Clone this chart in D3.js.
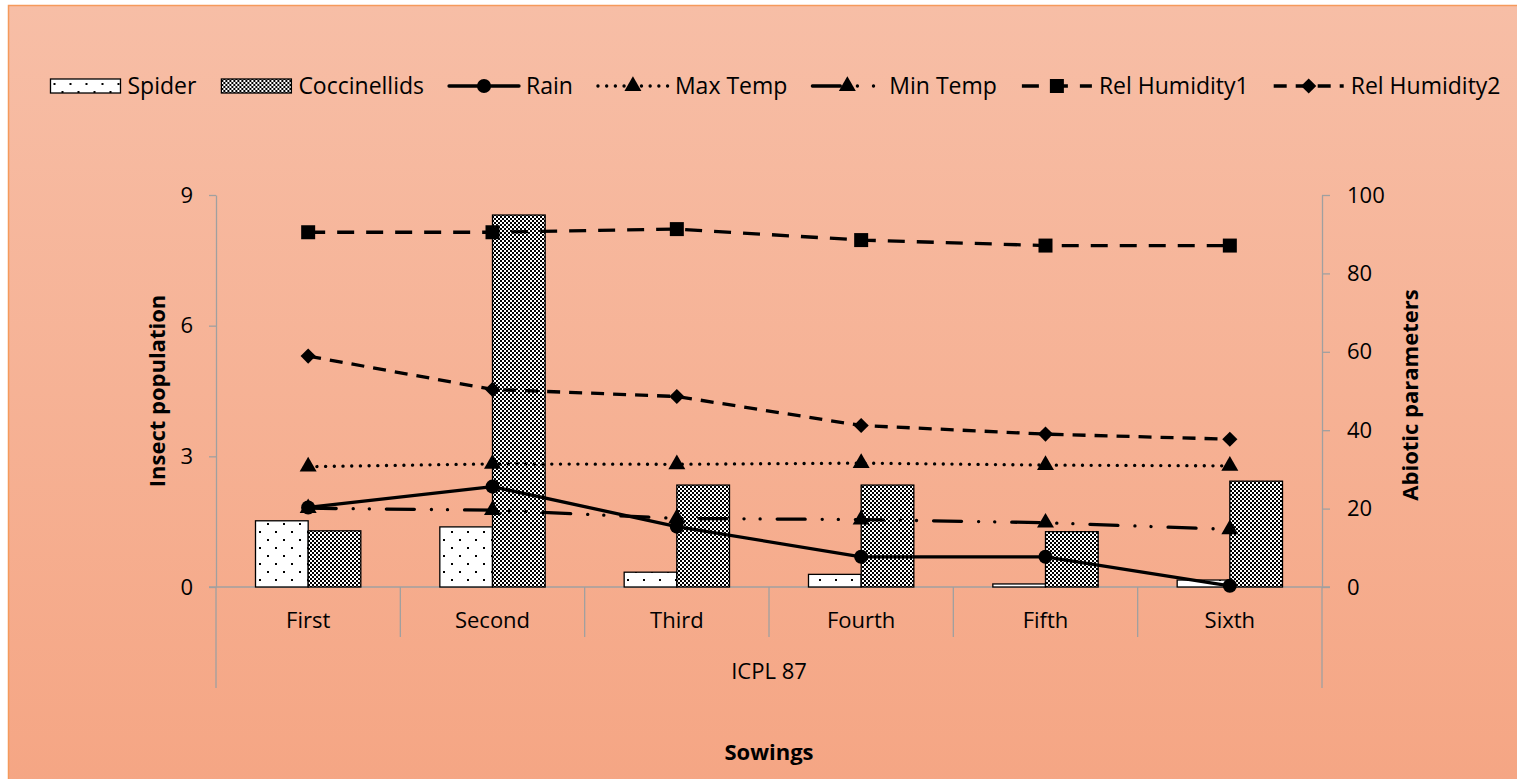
<!DOCTYPE html>
<html>
<head>
<meta charset="utf-8">
<script src="https://d3js.org/d3.v7.min.js"></script>
<style>
  html, body { margin: 0; padding: 0; background: #fff; overflow: hidden; }
  svg { display: block; font-family: "Open Sans", sans-serif; }
</style>
</head>
<body>
<svg id="chart" width="1517" height="779"></svg>
<script>
// Data
const sowings = ['First', 'Second', 'Third', 'Fourth', 'Fifth', 'Sixth'];
const spider = [1.52, 1.38, 0.34, 0.29, 0.07, 0.16];
const coccinellids = [1.29, 8.54, 2.34, 2.34, 1.27, 2.43];
const rain = [20.3, 25.6, 15.4, 7.7, 7.7, 0.3];
const maxTemp = [30.7, 31.4, 31.3, 31.6, 31.1, 30.9];
const minTemp = [20.1, 19.6, 17.5, 17.2, 16.4, 14.7];
const relHumidity1 = [90.5, 90.5, 91.3, 88.5, 87.1, 87.1];
const relHumidity2 = [58.9, 50.4, 48.6, 41.2, 39.0, 37.7];
const leftTicks = [0, 3, 6, 9];
const rightTicks = [0, 20, 40, 60, 80, 100];

const svg = d3.select('#chart');
const W = 1517, H = 779;
const plot = { left: 216, right: 1322, top: 195, bottom: 587 };
const axisGrey = '#a0a0a0';
const tickFont = 22, legendFont = 23, titleFont = 22;

// Background gradient + border
const defs = svg.append('defs');
const grad = defs.append('linearGradient').attr('id', 'bg').attr('x1', 0).attr('y1', 0).attr('x2', 0).attr('y2', 1);
grad.append('stop').attr('offset', '0%').attr('stop-color', '#f7bea6');
grad.append('stop').attr('offset', '100%').attr('stop-color', '#f5a583');

svg.append('rect').attr('width', W).attr('height', H).attr('fill', '#ffffff');
svg.append('rect')
  .attr('x', 8.5).attr('y', 5.5).attr('width', W + 20).attr('height', H + 20)
  .attr('fill', 'url(#bg)').attr('stroke', '#f59a5c').attr('stroke-width', 1.5);

// Patterns
const dots = defs.append('pattern').attr('id', 'dots')
  .attr('patternUnits', 'userSpaceOnUse').attr('width', 16).attr('height', 16);
dots.append('rect').attr('width', 16).attr('height', 16).attr('fill', '#fff');
dots.append('rect').attr('x', 3).attr('y', 3).attr('width', 2).attr('height', 2).attr('fill', '#000');
dots.append('rect').attr('x', 11).attr('y', 11).attr('width', 2).attr('height', 2).attr('fill', '#000');

const check = defs.append('pattern').attr('id', 'check')
  .attr('patternUnits', 'userSpaceOnUse').attr('width', 4).attr('height', 4);
check.append('rect').attr('width', 4).attr('height', 4).attr('fill', '#fff');
check.append('rect').attr('x', 0).attr('y', 0).attr('width', 2).attr('height', 2).attr('fill', '#000');
check.append('rect').attr('x', 2).attr('y', 2).attr('width', 2).attr('height', 2).attr('fill', '#000');

// Scales
const x = d3.scaleBand().domain(sowings).range([plot.left, plot.right]);
const groupW = x.bandwidth() / 1.75;
const barSeries = [
  { name: 'Spider', values: spider, fill: 'url(#dots)' },
  { name: 'Coccinellids', values: coccinellids, fill: 'url(#check)' }
];
const xInner = d3.scaleBand().domain(barSeries.map(d => d.name))
  .range([(x.bandwidth() - groupW) / 2, (x.bandwidth() + groupW) / 2]);
const yL = d3.scaleLinear().domain([0, 9]).range([plot.bottom, plot.top]);
const yR = d3.scaleLinear().domain([0, 100]).range([plot.bottom, plot.top]);
const cx = c => x(c) + x.bandwidth() / 2;

// Axes
const gL = svg.append('g').attr('transform', `translate(${plot.left},0)`)
  .call(d3.axisLeft(yL).tickValues(leftTicks).tickSize(7).tickSizeOuter(0).tickPadding(16));
const gR = svg.append('g').attr('transform', `translate(${plot.right},0)`)
  .call(d3.axisRight(yR).tickValues(rightTicks).tickSize(8).tickSizeOuter(0).tickPadding(17));
[gL, gR].forEach(g => {
  g.selectAll('.domain').attr('stroke', axisGrey).attr('stroke-width', 1.3);
  g.selectAll('.tick line').attr('stroke', axisGrey).attr('stroke-width', 1.3);
  g.selectAll('.tick text').attr('fill', '#000').attr('font-size', tickFont)
    .attr('font-family', '"Open Sans", sans-serif');
});

// Category axis with two label levels
const cat = svg.append('g').attr('stroke', axisGrey).attr('stroke-width', 1.3);
cat.append('line').attr('x1', plot.left - 7).attr('x2', plot.right + 8)
  .attr('y1', plot.bottom).attr('y2', plot.bottom);
sowings.slice(1).forEach(c => {
  cat.append('line').attr('x1', x(c)).attr('x2', x(c)).attr('y1', plot.bottom).attr('y2', 637);
});
[plot.left, plot.right].forEach(px => {
  cat.append('line').attr('x1', px).attr('x2', px).attr('y1', plot.bottom).attr('y2', 688);
});
svg.append('g').selectAll('text').data(sowings).join('text')
  .attr('x', d => cx(d)).attr('y', 620).attr('dy', '0.35em')
  .attr('text-anchor', 'middle').attr('font-size', tickFont).text(d => d);
svg.append('text').attr('x', (plot.left + plot.right) / 2).attr('y', 671).attr('dy', '0.35em')
  .attr('text-anchor', 'middle').attr('font-size', tickFont).text('ICPL 87');

// Titles
svg.append('text').attr('x', (plot.left + plot.right) / 2).attr('y', 752).attr('dy', '0.35em')
  .attr('text-anchor', 'middle').attr('font-size', titleFont).attr('font-weight', 700).text('Sowings');
svg.append('text').attr('transform', `translate(157,${(plot.top + plot.bottom) / 2}) rotate(-90)`)
  .attr('dy', '0.35em').attr('text-anchor', 'middle').attr('font-size', titleFont).attr('font-weight', 700)
  .text('Insect population');
svg.append('text').attr('transform', `translate(1410,${(plot.top + plot.bottom) / 2 + 4}) rotate(-90)`)
  .attr('dy', '0.35em').attr('text-anchor', 'middle').attr('font-size', titleFont).attr('font-weight', 700)
  .text('Abiotic parameters');

// Bars
barSeries.forEach(s => {
  svg.append('g').selectAll('rect').data(s.values).join('rect')
    .attr('x', (d, i) => x(sowings[i]) + xInner(s.name))
    .attr('y', d => yL(d))
    .attr('width', xInner.bandwidth())
    .attr('height', d => yL(0) - yL(d))
    .attr('fill', s.fill).attr('stroke', '#000').attr('stroke-width', 1.3);
});

// Line series
const sym = {
  circle: { gen: d3.symbol().type(d3.symbolCircle).size(155), rot: 0 },
  triangle: { gen: d3.symbol().type(d3.symbolTriangle).size(125), rot: 0 },
  square: { gen: d3.symbol().type(d3.symbolSquare).size(196), rot: 0 },
  diamond: { gen: d3.symbol().type(d3.symbolSquare).size(115), rot: 45 }
};
const lineSeries = [
  { name: 'Rain', values: rain, dash: null, cap: 'round', marker: 'circle' },
  { name: 'Max Temp', values: maxTemp, dash: '0.1 8.6', cap: 'round', marker: 'triangle' },
  { name: 'Min Temp', values: minTemp, dash: '28 17 0.1 16 0.1 17', cap: 'round', marker: 'triangle' },
  { name: 'Rel Humidity1', values: relHumidity1, dash: '17 12', cap: 'butt', marker: 'square' },
  { name: 'Rel Humidity2', values: relHumidity2, dash: '13 9', cap: 'butt', marker: 'diamond' }
];
const drawOrder = ['Max Temp', 'Min Temp', 'Rain', 'Rel Humidity1', 'Rel Humidity2'];
const line = d3.line().x((d, i) => cx(sowings[i])).y(d => yR(d));

drawOrder.map(n => lineSeries.find(s => s.name === n)).forEach(s => {
  const g = svg.append('g');
  g.append('path').attr('d', line(s.values)).attr('fill', 'none')
    .attr('stroke', '#000').attr('stroke-width', 3.3)
    .attr('stroke-dasharray', s.dash).attr('stroke-linecap', s.cap);
  g.selectAll('path.mk').data(s.values).join('path').attr('class', 'mk')
    .attr('d', sym[s.marker].gen)
    .attr('transform', (d, i) => `translate(${cx(sowings[i])},${yR(d)}) rotate(${sym[s.marker].rot})`)
    .attr('fill', '#000');
});

// Legend
const legendItems = [
  { name: 'Spider', type: 'bar', fill: 'url(#dots)' },
  { name: 'Coccinellids', type: 'bar', fill: 'url(#check)' },
  ...lineSeries.map(s => Object.assign({ type: 'line' }, s))
];
const lg = svg.append('g');
const legY = 86, symW = 70, symGap = 7, itemGap = 25;
let lx = 0;
legendItems.forEach(it => {
  const g = lg.append('g').attr('transform', `translate(${lx},0)`);
  if (it.type === 'bar') {
    g.append('rect').attr('x', 0).attr('y', legY - 7).attr('width', symW).attr('height', 14)
      .attr('fill', it.fill).attr('stroke', '#000').attr('stroke-width', 1.3);
  } else {
    g.append('line').attr('x1', 0).attr('x2', symW).attr('y1', legY).attr('y2', legY)
      .attr('stroke', '#000').attr('stroke-width', 3.3)
      .attr('stroke-dasharray', it.dash).attr('stroke-linecap', it.cap);
    g.append('path').attr('d', sym[it.marker].gen)
      .attr('transform', `translate(${symW / 2},${legY}) rotate(${sym[it.marker].rot})`);
  }
  const t = g.append('text').attr('x', symW + symGap).attr('y', legY).attr('dy', '0.35em')
    .attr('font-size', legendFont).text(it.name);
  lx += symW + symGap + t.node().getComputedTextLength() + itemGap;
});
lx -= itemGap;
lg.attr('transform', `translate(${(53 + 1498) / 2 - lx / 2},0)`);
</script>
</body>
</html>
